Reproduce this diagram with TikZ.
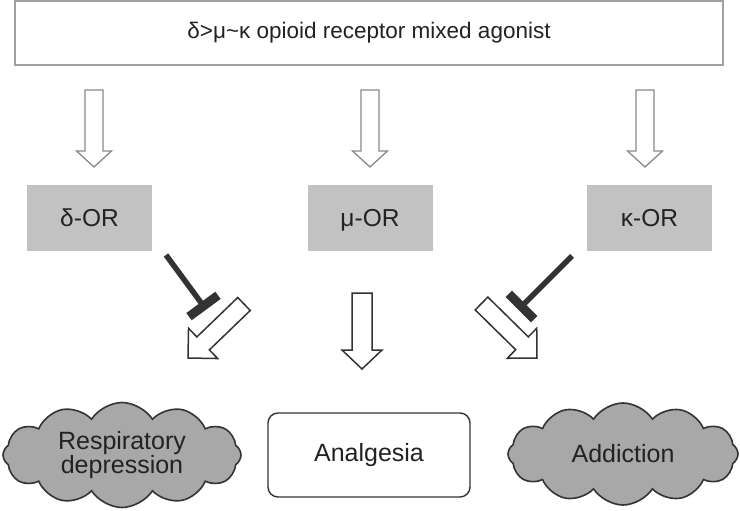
\documentclass[tikz,border=0pt]{standalone}
\usepackage{fontspec}
\setmainfont{Liberation Sans}
\usetikzlibrary{calc,shapes.symbols}
\definecolor{txt}{HTML}{222222}
\definecolor{topline}{HTML}{A0A0A0}
\definecolor{recfill}{HTML}{C2C2C2}
\definecolor{cloudfill}{HTML}{A8A8A8}
\definecolor{dark}{HTML}{333333}
\definecolor{smallline}{HTML}{8A8A8A}
\newcommand\blockarrow[6]{% style, from, to, half shaft, half head, head length
  \coordinate (ba-h) at ($(#3)!#6!(#2)$);
  \draw[#1] ($(#2)!#4!90:(#3)$) -- ($(ba-h)!#4!90:(#3)$) -- ($(ba-h)!#5!90:(#3)$) -- (#3)
    -- ($(ba-h)!#5!-90:(#3)$) -- ($(ba-h)!#4!-90:(#3)$) -- ($(#2)!#4!-90:(#3)$) -- cycle;}
\newcommand\inhibit[2]{% from, bar centre
  \draw[inhline] (#1) -- (#2);
  \draw[inhbar] ($(#2)!18pt!90:(#1)$) -- ($(#2)!18pt!-90:(#1)$);}
\begin{document}
\begin{tikzpicture}[x=1pt,y=-1pt,
  every node/.style={text=txt},
  topbox/.style={draw=topline,line width=2pt,fill=white,minimum width=708pt,minimum height=64pt,inner sep=0pt,text height=16pt,text depth=5pt,font=\fontsize{22.5}{27}\selectfont},
  receptor/.style={fill=recfill,minimum width=125pt,minimum height=66pt,inner sep=0pt,text height=18pt,text depth=2pt,font=\fontsize{24.5}{27}\selectfont},
  effectcloud/.style={cloud,cloud puffs=12,cloud puff arc=115,cloud ignores aspect,draw=dark,line width=1.6pt,fill=cloudfill,inner sep=0pt,align=center,font=\fontsize{25}{21}\selectfont},
  effectbox/.style={draw=dark,line width=1.4pt,rounded corners=10pt,minimum width=202pt,minimum height=84pt,inner sep=0pt,font=\fontsize{25}{30}\selectfont},
  smallarrow/.style={draw=smallline,line width=1.3pt,fill=white,line join=miter},
  bigarrow/.style={draw=dark,line width=1.5pt,fill=white,line join=miter},
  inhline/.style={draw=dark,line width=5.5pt},
  inhbar/.style={draw=dark,line width=9pt,line cap=butt},
]
\useasboundingbox (0,0) rectangle (740,511);
\fill[white] (0,0) rectangle (740,511);

\node[topbox] (top) at (369,33) {δ>μ\textasciitilde κ opioid receptor mixed agonist};

\node[receptor] (dor) at (89.5,218) {δ-OR};
\node[receptor] (mor) at (370,218) {μ-OR};
\node[receptor] (kor) at (649.5,218) {κ-OR};

\node[effectcloud,minimum width=238pt,minimum height=105pt] (resp) at (122,455) {Respiratory\\depression};
\node[effectbox] (anal) at (369,455) {Analgesia};
\node[effectcloud,minimum width=230pt,minimum height=102pt] (addi) at (623,454) {Addiction};

% small arrows from agonist to receptors
\coordinate (s1a) at (94,90);  \coordinate (s1b) at (94,167);
\coordinate (s2a) at (370,90); \coordinate (s2b) at (370,167);
\coordinate (s3a) at (645,90); \coordinate (s3b) at (645,167);
\blockarrow{smallarrow}{s1a}{s1b}{9pt}{17.5pt}{16pt}
\blockarrow{smallarrow}{s2a}{s2b}{9pt}{17.5pt}{16pt}
\blockarrow{smallarrow}{s3a}{s3b}{9pt}{17.5pt}{16pt}

% big arrows from receptors to effects
\coordinate (b1a) at (244,304);   \coordinate (b1b) at (188,358);
\coordinate (b2a) at (362,293);   \coordinate (b2b) at (362,369);
\coordinate (b3a) at (481.5,303.5); \coordinate (b3b) at (537,358);
\blockarrow{bigarrow}{b1a}{b1b}{9pt}{21pt}{21pt}
\blockarrow{bigarrow}{b2a}{b2b}{10pt}{20pt}{19pt}
\blockarrow{bigarrow}{b3a}{b3b}{9pt}{21pt}{21pt}

% inhibitions
\coordinate (i1a) at (166,255); \coordinate (i1b) at (203.5,306);
\coordinate (i3a) at (572,256); \coordinate (i3b) at (521.5,306.5);
\inhibit{i1a}{i1b}
\inhibit{i3a}{i3b}
\end{tikzpicture}
\end{document}
